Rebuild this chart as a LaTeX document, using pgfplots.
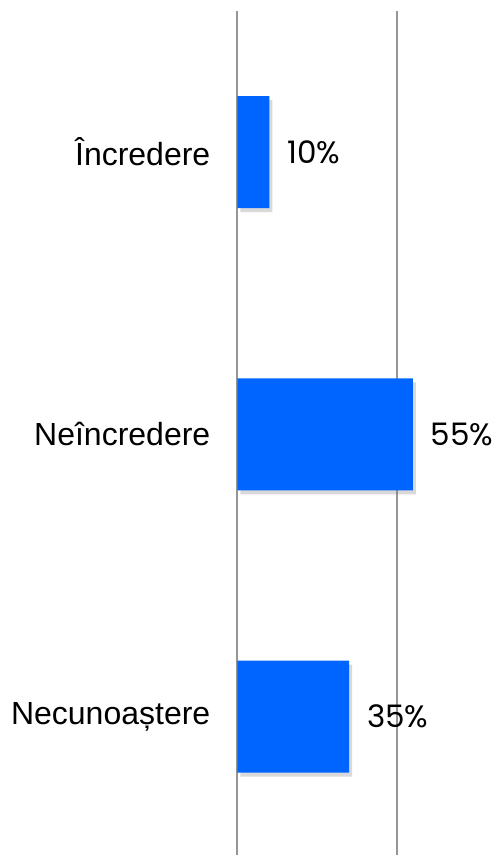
\documentclass[border=0pt]{standalone}
\usepackage{pgfplots}
\pgfplotsset{compat=1.18}
\usepackage{fontspec}
\setmainfont{Liberation Sans}
\newfontfamily\valfont{Poppins}
\usetikzlibrary{shadows}
\definecolor{barblue}{RGB}{0,100,255}
\definecolor{gridgray}{RGB}{150,150,150}

\begin{document}
\begin{tikzpicture}
\begin{axis}[
  at={(0,0)}, anchor=south west,
  scale only axis,
  width=261pt, height=844pt,
  xbar, bar width=112pt,
  xmin=0, xmax=81.9,
  ymin=-0.5, ymax=2.49,
  y dir=reverse,
  ytick={0,1,2},
  yticklabels={Încredere,Neîncredere,Necunoaștere},
  yticklabel style={font=\fontsize{32}{35}\selectfont, inner sep=0pt, xshift=-27pt},
  xtick={0,50}, xticklabels={},
  xmajorgrids,
  grid style={draw=gridgray, line width=2pt},
  major tick length=0pt,
  axis line style={draw=none},
  point meta=x,
  nodes near coords={\pgfmathprintnumber[assume math mode=true]{\pgfplotspointmeta}\%},
  nodes near coords align=horizontal,
  every node near coord/.append style={font=\valfont\fontsize{31}{35}\selectfont, inner sep=0pt, xshift=18pt},
]
\addplot[fill=barblue, draw=none,
  drop shadow={opacity=0.3, shadow xshift=3pt, shadow yshift=-4pt}]
  coordinates {(10,0) (55,1) (35,2)};
\end{axis}
\pgfresetboundingbox
\path (-237.5pt,0pt) rectangle (260.5pt,855pt);
\end{tikzpicture}
\end{document}
